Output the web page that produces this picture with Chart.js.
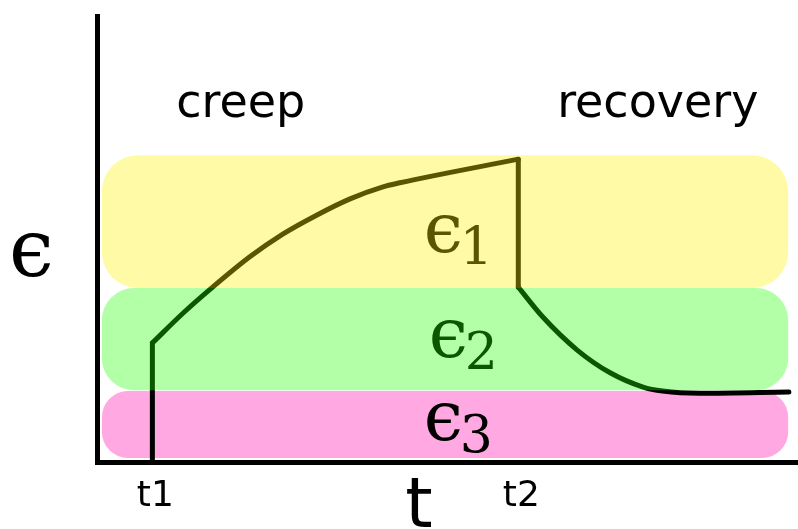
<!DOCTYPE html>
<html>
<head>
<meta charset="utf-8">
<script src="https://cdn.jsdelivr.net/npm/chart.js@4.4.1/dist/chart.umd.min.js"></script>
<style>
  html, body { margin: 0; padding: 0; background: #fff; }
  .chart-container { width: 798px; height: 529px; }
</style>
</head>
<body>
<div class="chart-container"><canvas id="chart"></canvas></div>
<script>
// time marks (arbitrary units)
const t1 = 0.79;
const t2 = 6.01;

// strain curve, split where it jumps straight up / down
const creepJump = [{x: t1, y: 0}, {x: t1, y: 2.67}];
const creepCurve = [
  {x: t1, y: 2.67}, {x: 1.23, y: 3.34}, {x: 1.65, y: 3.92}, {x: 2.18, y: 4.60},
  {x: 2.65, y: 5.11}, {x: 3.14, y: 5.54}, {x: 3.61, y: 5.90}, {x: 4.08, y: 6.17},
  {x: 4.32, y: 6.26}, {x: t2, y: 6.79}
];
const recoveryDrop = [{x: t2, y: 6.79}, {x: t2, y: 3.92}];
const recoveryCurve = [
  {x: t2, y: 3.92}, {x: 6.36, y: 3.25}, {x: 6.85, y: 2.51}, {x: 7.32, y: 2.00},
  {x: 7.79, y: 1.68}, {x: 8.07, y: 1.59}, {x: 8.60, y: 1.54}, {x: 9.87, y: 1.57}
];

// strain components drawn as bands
const bandSubs = ['1', '2', '3'];
const bandFrom = [3.90, 1.61, 0.09];
const bandTo = [6.88, 3.90, 1.59];
const bandStart = 0.07;
const bandEnd = 9.86;
const bandLabelX = [4.72, 4.79, 4.72];
const bandLabelY = [4.71, 2.35, 0.49];

const timeLabels = ['t1', 't2'];
const timeValues = [t1, t2];
const phaseLabels = ['creep', 'recovery'];
const phaseCenters = [2.05, 8.0];
const phaseY = 7.74;

const bandColors = ['rgba(255, 241, 0, 0.353)', 'rgba(32, 255, 0, 0.341)', '#ffa8e2'];
const bandRadius = [36, 32, 26];

function drawBand(chart, i) {
  const {ctx, scales: {x, y}} = chart;
  const left = x.getPixelForValue(bandStart);
  const right = x.getPixelForValue(bandEnd);
  const top = y.getPixelForValue(bandTo[i]);
  const bottom = y.getPixelForValue(bandFrom[i]);
  ctx.save();
  ctx.fillStyle = bandColors[i];
  ctx.beginPath();
  ctx.roundRect(left, top, right - left, bottom - top, bandRadius[i]);
  ctx.fill();
  ctx.restore();
}

const bandsPlugin = {
  id: 'bands',
  beforeDatasetsDraw(chart) {
    const {ctx, scales: {x, y}} = chart;
    // pink band sits under the curve
    drawBand(chart, 2);
    // epsilon labels go under the see-through bands
    ctx.save();
    ctx.fillStyle = '#000';
    ctx.textBaseline = 'alphabetic';
    ctx.textAlign = 'left';
    bandSubs.forEach((sub, i) => {
      const px = x.getPixelForValue(bandLabelX[i]);
      const py = y.getPixelForValue(bandLabelY[i]);
      ctx.font = '70px "DejaVu Serif"';
      ctx.fillText('\u03F5', px - 4, py);
      ctx.font = '52px "DejaVu Serif"';
      ctx.fillText(sub, px + 32, py + 12);
    });
    ctx.restore();
  },
  afterDatasetsDraw(chart) {
    drawBand(chart, 0);
    drawBand(chart, 1);
  },
  afterDraw(chart) {
    const {ctx, scales: {x, y}} = chart;
    ctx.save();
    ctx.fillStyle = '#000';
    ctx.textBaseline = 'alphabetic';
    ctx.textAlign = 'center';
    ctx.font = '46px "DejaVu Sans"';
    phaseLabels.forEach((label, i) => {
      ctx.fillText(label, x.getPixelForValue(phaseCenters[i]), y.getPixelForValue(phaseY));
    });
    ctx.font = '36px "DejaVu Sans"';
    timeLabels.forEach((label, i) => {
      ctx.fillText(label, x.getPixelForValue(timeValues[i]) + 3, 506);
    });
    // axis titles
    ctx.font = '70px "DejaVu Sans"';
    ctx.fillText('t', 419, 527);
    ctx.textAlign = 'left';
    ctx.font = '80px "DejaVu Serif"';
    ctx.fillText('\u03F5', 9, 276);
    ctx.restore();
  }
};

const lineStyle = {
  borderColor: '#000',
  borderWidth: 5,
  pointRadius: 0,
  borderCapStyle: 'round',
  borderJoinStyle: 'miter',
  fill: false
};

new Chart(document.getElementById('chart'), {
  type: 'line',
  data: {
    datasets: [
      {...lineStyle, label: 'jump', data: creepJump, tension: 0},
      {...lineStyle, label: 'creep', data: creepCurve, cubicInterpolationMode: 'monotone'},
      {...lineStyle, label: 'drop', data: recoveryDrop, tension: 0},
      {...lineStyle, label: 'recovery', data: recoveryCurve, cubicInterpolationMode: 'monotone'}
    ]
  },
  options: {
    responsive: true,
    maintainAspectRatio: false,
    animation: false,
    layout: {
      autoPadding: false,
      padding: {left: 97, top: 16, right: 0, bottom: 67}
    },
    plugins: {
      legend: {display: false},
      tooltip: {enabled: false}
    },
    scales: {
      x: {
        type: 'linear',
        min: 0,
        max: 10,
        ticks: {display: false},
        grid: {display: false, drawTicks: false},
        border: {display: true, color: '#000', width: 5}
      },
      y: {
        min: 0,
        max: 10,
        ticks: {display: false},
        grid: {display: false, drawTicks: false},
        border: {display: true, color: '#000', width: 5}
      }
    }
  },
  plugins: [bandsPlugin]
});
</script>
</body>
</html>
